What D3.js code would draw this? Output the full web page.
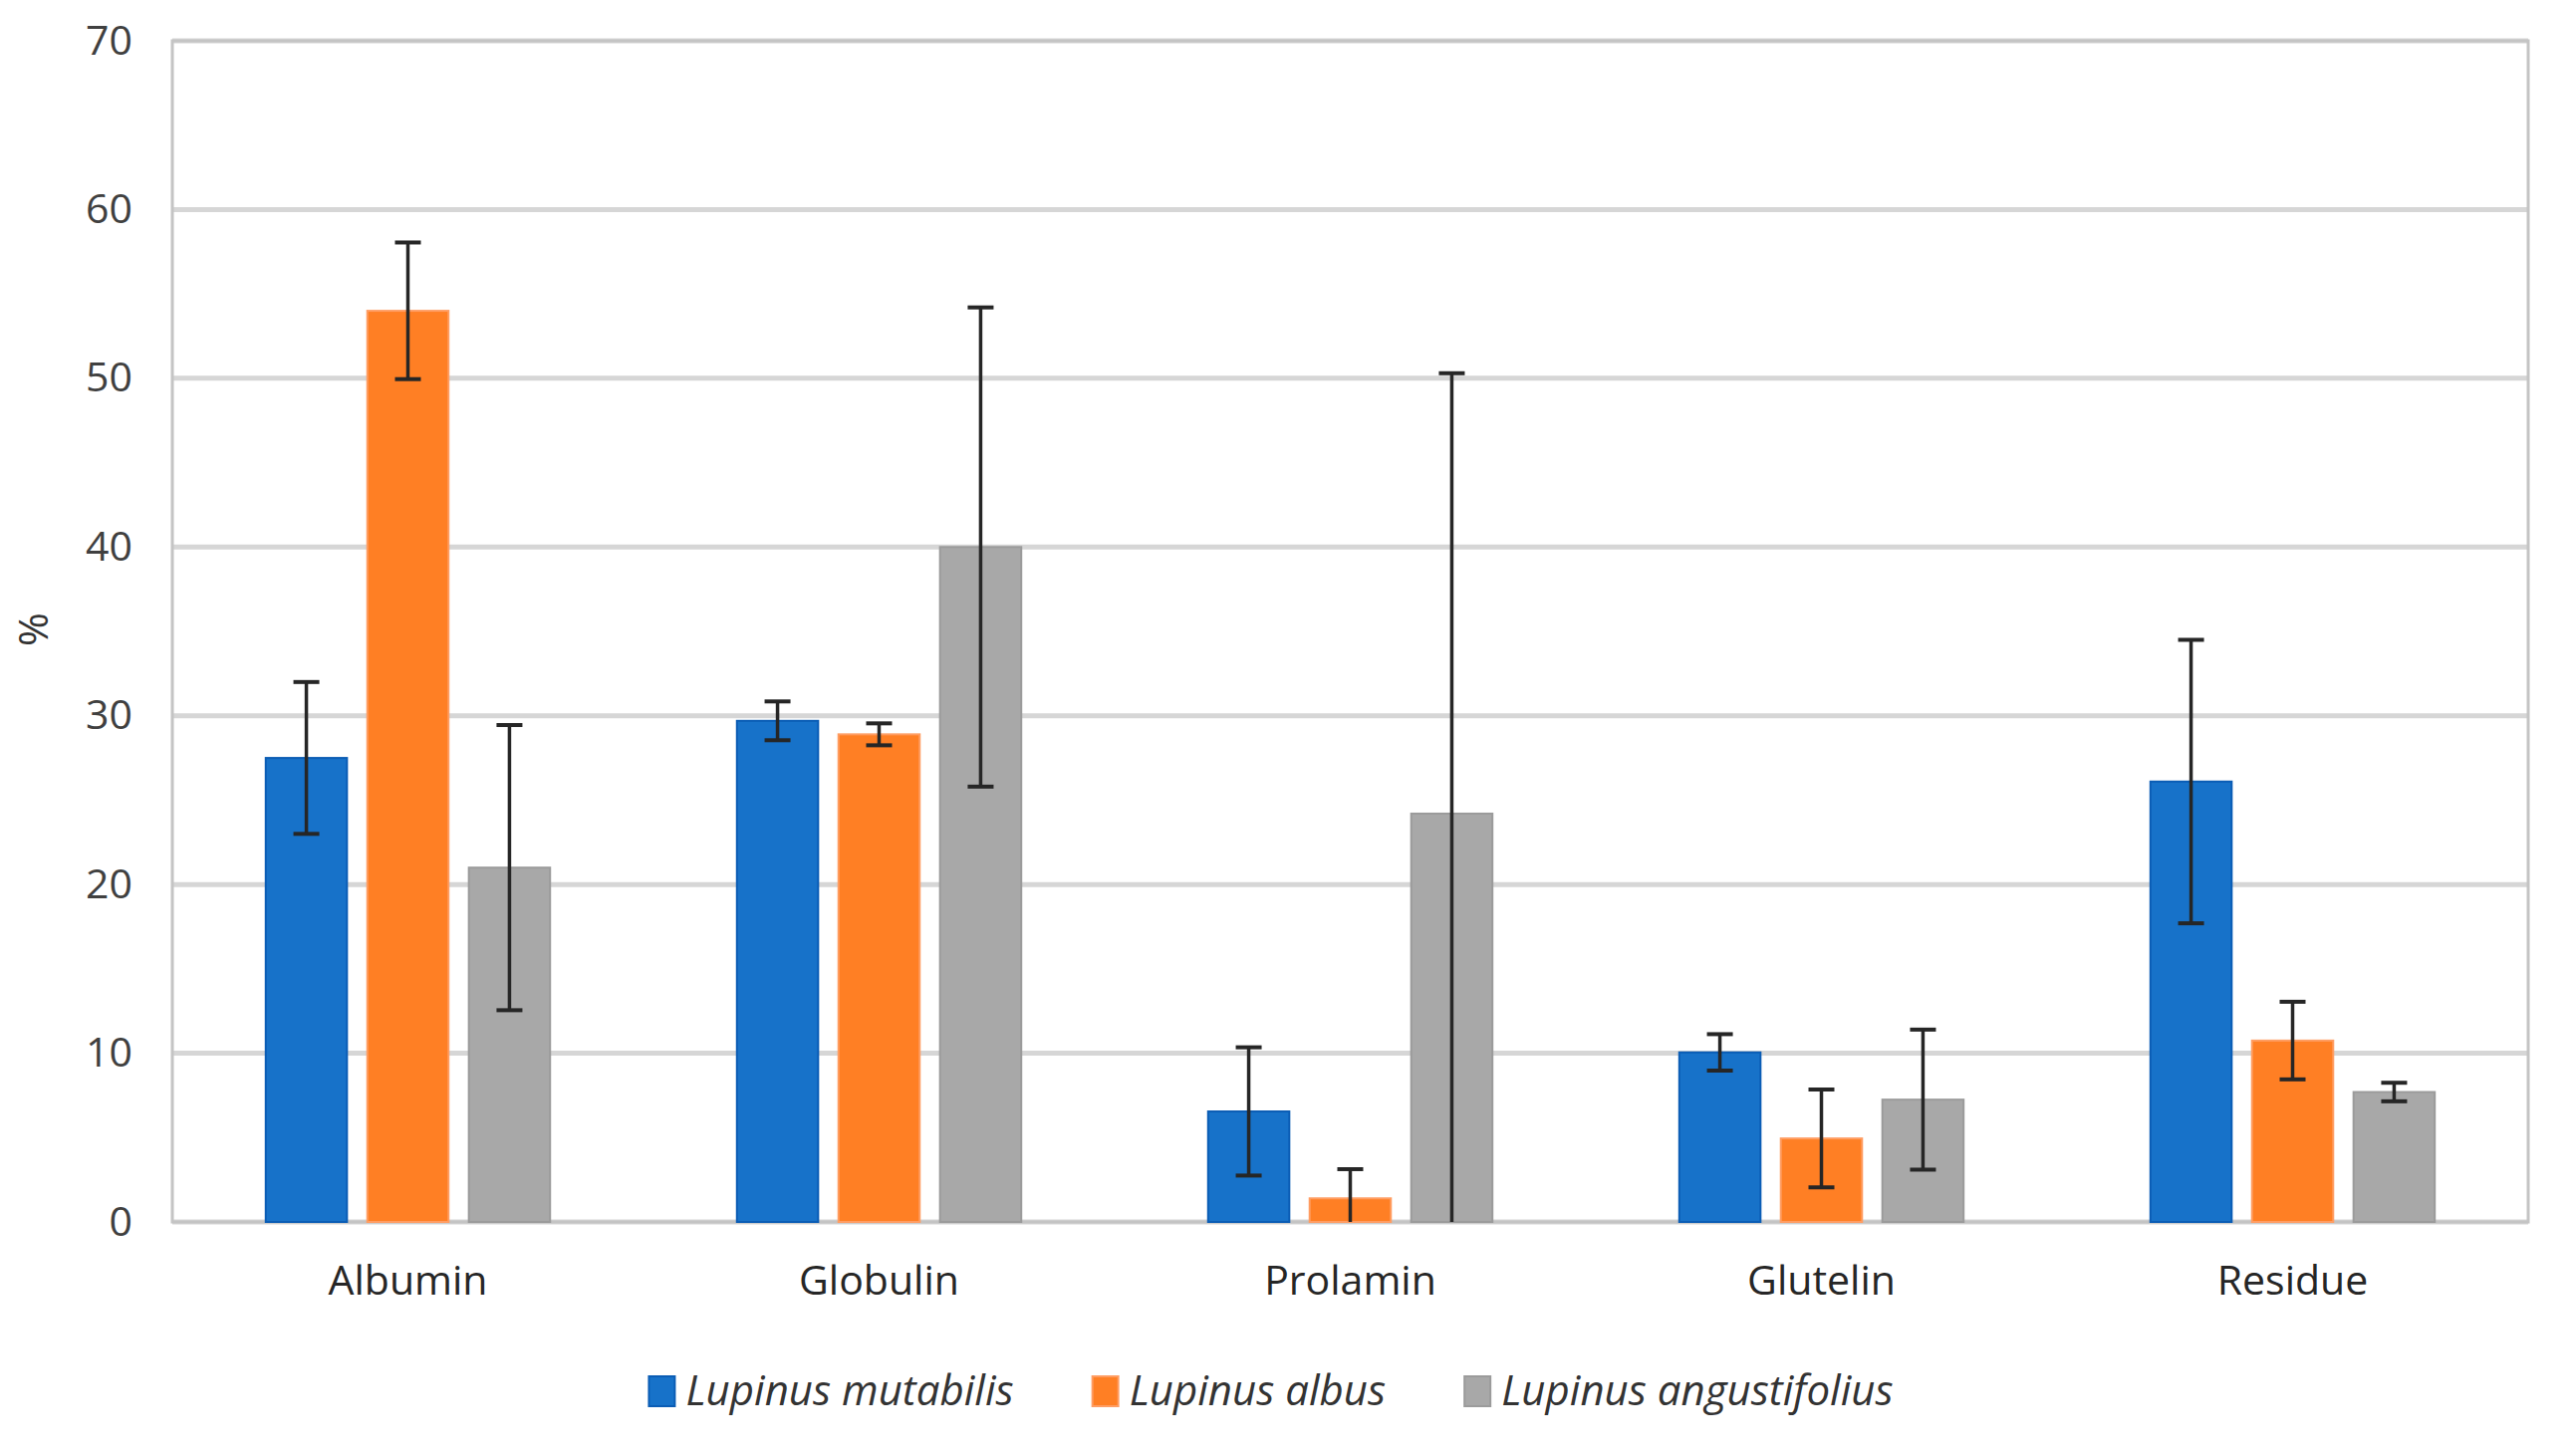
<!DOCTYPE html>
<html>
<head>
<meta charset="utf-8">
<script src="https://cdn.jsdelivr.net/npm/d3@7"></script>
<style>
  body { margin: 0; background: #fff; }
  svg { display: block; font-family: "Open Sans", "Noto Sans", sans-serif; }
</style>
</head>
<body>
<svg width="2586" height="1460"></svg>
<script>
const categories = ['Albumin', 'Globulin', 'Prolamin', 'Glutelin', 'Residue'];
const seriesNames = ['Lupinus mutabilis', 'Lupinus albus', 'Lupinus angustifolius'];
const mutabilis = [27.5, 29.7, 6.55, 10.05, 26.1];
const mutabilisErr = [4.5, 1.15, 3.8, 1.08, 8.4];
const albus = [54.0, 28.9, 1.4, 4.95, 10.75];
const albusErr = [4.05, 0.65, 1.73, 2.9, 2.3];
const angustifolius = [21.0, 40.0, 24.2, 7.25, 7.7];
const angustifoliusErr = [8.45, 14.2, 26.1, 4.15, 0.55];
const yTicks = [0, 10, 20, 30, 40, 50, 60, 70];
const colors = ['#1772c9', '#ff7f24', '#a8a8a8'];
const strokes = ['#0b5db5', '#ff9d63', '#9b9b9b'];

const values = [mutabilis, albus, angustifolius];
const errors = [mutabilisErr, albusErr, angustifoliusErr];
const rows = [];
categories.forEach((c, i) => {
  seriesNames.forEach((s, j) => {
    rows.push({cat: c, series: s, idx: j, value: values[j][i], err: errors[j][i]});
  });
});

const plotL = 173, plotR = 2538, plotT = 41, plotB = 1227;
const svg = d3.select('svg');

const x0 = d3.scaleBand().domain(categories).range([plotL, plotR]).paddingInner(0).paddingOuter(0);
const x1 = d3.scaleBand().domain(seriesNames).range([0, x0.bandwidth()]).paddingInner(0.2).paddingOuter(0.92);
const y = d3.scaleLinear().domain([0, 70]).range([plotB, plotT]);

// gridlines
svg.append('g')
  .selectAll('line')
  .data(yTicks)
  .enter()
  .append('line')
  .attr('x1', plotL).attr('x2', plotR)
  .attr('y1', d => y(d)).attr('y2', d => y(d))
  .attr('stroke', '#d6d6d6')
  .attr('stroke-width', 5);

// frame
svg.append('rect')
  .attr('x', plotL).attr('y', plotT)
  .attr('width', plotR - plotL).attr('height', plotB - plotT)
  .attr('fill', 'none')
  .attr('stroke', '#c4c4c4')
  .attr('stroke-width', 3);

// y axis labels
const yAxis = d3.axisLeft(y).tickValues(yTicks).tickSize(0).tickPadding(40);
svg.append('g')
  .attr('transform', `translate(${plotL},0)`)
  .call(yAxis)
  .call(g => g.select('.domain').remove())
  .selectAll('text')
  .attr('font-size', 41)
  .attr('font-family', '"Open Sans", sans-serif')
  .attr('fill', '#404040');

// x axis labels
const xAxis = d3.axisBottom(x0).tickSize(0).tickPadding(44);
svg.append('g')
  .attr('transform', `translate(0,${plotB})`)
  .call(xAxis)
  .call(g => g.select('.domain').remove())
  .selectAll('text')
  .attr('font-size', 41)
  .attr('font-family', '"Open Sans", sans-serif')
  .attr('fill', '#262626');

// bars
svg.append('g')
  .selectAll('rect')
  .data(rows)
  .enter()
  .append('rect')
  .attr('x', d => x0(d.cat) + x1(d.series))
  .attr('y', d => y(d.value))
  .attr('width', x1.bandwidth())
  .attr('height', d => y(0) - y(d.value))
  .attr('fill', d => colors[d.idx])
  .attr('stroke', d => strokes[d.idx])
  .attr('stroke-width', 2);

// error bars
const eg = svg.append('g').attr('stroke', '#262626');
const cx = d => x0(d.cat) + x1(d.series) + x1.bandwidth() / 2;
eg.selectAll('line.stem')
  .data(rows)
  .enter()
  .append('line')
  .attr('class', 'stem')
  .attr('x1', cx).attr('x2', cx)
  .attr('y1', d => y(d.value + d.err))
  .attr('y2', d => y(Math.max(0, d.value - d.err)))
  .attr('stroke-width', 3.5);
eg.selectAll('line.capTop')
  .data(rows)
  .enter()
  .append('line')
  .attr('class', 'capTop')
  .attr('x1', d => cx(d) - 13).attr('x2', d => cx(d) + 13)
  .attr('y1', d => y(d.value + d.err)).attr('y2', d => y(d.value + d.err))
  .attr('stroke-width', 4);
eg.selectAll('line.capBot')
  .data(rows.filter(d => d.value - d.err > 0))
  .enter()
  .append('line')
  .attr('class', 'capBot')
  .attr('x1', d => cx(d) - 13).attr('x2', d => cx(d) + 13)
  .attr('y1', d => y(d.value - d.err)).attr('y2', d => y(d.value - d.err))
  .attr('stroke-width', 4);

// y title
svg.append('text')
  .attr('transform', 'translate(48,632) rotate(-90)')
  .attr('text-anchor', 'middle')
  .attr('font-size', 41)
  .attr('fill', '#333')
  .text('%');

// legend
const legend = svg.append('g');
const items = legend.selectAll('g')
  .data(seriesNames)
  .enter()
  .append('g');
items.append('rect')
  .attr('width', 26).attr('height', 30)
  .attr('y', 1382)
  .attr('fill', (d, i) => colors[i])
  .attr('stroke', (d, i) => strokes[i])
  .attr('stroke-width', 2);
items.append('text')
  .attr('x', 37)
  .attr('y', 1411)
  .attr('font-size', 42)
  .attr('font-style', 'italic')
  .attr('fill', '#333')
  .text(d => d);
let pos = 0;
const offs = [];
items.each(function() {
  offs.push(pos);
  const w = d3.select(this).select('text').node().getComputedTextLength();
  pos += 37 + w + 79;
});
const total = pos - 79;
const start = 1276 - total / 2;
items.attr('transform', (d, i) => `translate(${start + offs[i]},0)`);
</script>
</body>
</html>
